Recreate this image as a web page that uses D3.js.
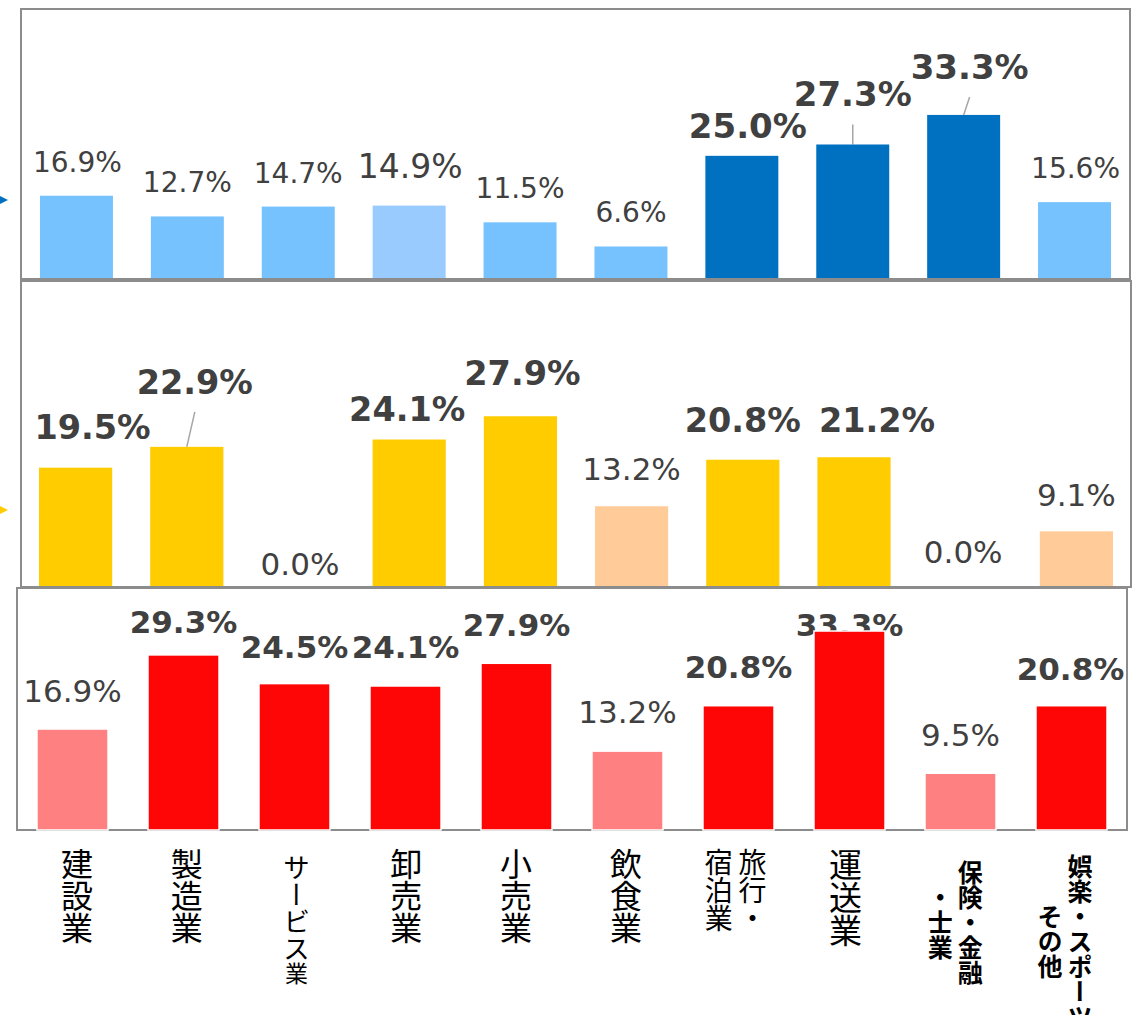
<!DOCTYPE html>
<html>
<head>
<meta charset="utf-8">
<script src="https://cdn.jsdelivr.net/npm/d3@7"></script>
<style>
html, body { margin: 0; padding: 0; background: #fff; }
svg { display: block; }
</style>
</head>
<body>
<div id="chart"></div>
<script>
// categories (x axis, same order in all three panels)
const categories = ['建設業', '製造業', 'サービス業', '卸売業', '小売業', '飲食業',
    '旅行・宿泊業', '運送業', '保険・金融・士業', '娯楽・スポーツ・その他'];
const categoryLines = [['建設業'], ['製造業'], ['サービス', '業'], ['卸売業'], ['小売業'], ['飲食業'],
    ['旅行・', '宿泊業'], ['運送業'], ['保険・金融', '・士業'], ['娯楽・スポーツ', 'その他']];

// panel values (%), and which bars are emphasised
const topValues = [16.9, 12.7, 14.7, 14.9, 11.5, 6.6, 25.0, 27.3, 33.3, 15.6];
const topTones = ['base', 'base', 'base', 'pale', 'base', 'base', 'hi', 'hi', 'hi', 'base'];
const midValues = [19.5, 22.9, 0.0, 24.1, 27.9, 13.2, 20.8, 21.2, 0.0, 9.1];
const midTones = ['hi', 'hi', 'lo', 'hi', 'hi', 'lo', 'hi', 'hi', 'lo', 'lo'];
const lowValues = [16.9, 29.3, 24.5, 24.1, 27.9, 13.2, 20.8, 33.3, 9.5, 20.8];
const lowTones = ['lo', 'hi', 'hi', 'hi', 'hi', 'lo', 'hi', 'hi', 'lo', 'hi'];

// label nudges (gap above bar top, horizontal shift) as placed in the original
const topLabelGap = [24, 24, 24, 28, 24, 24, 18, 38, 36, 24];
const topLabelShift = [1, 0, 0, 1, 0, 0, 6, 0, 6, 1];
const midLabelGap = [29, 53, 12, 19, 31, 26, 28, 25, 24, 25];
const midLabelShift = [17, 8, 2, -2, 2, 0, 0, 23, -2, 0];
const lowLabelGap = [27, 22, 26, 28, 27, 28, 28, -5, 27, 26];
const lowLabelShift = [0, 0, 0, 0, 0, 0, 0, 0, 0, -1];

const width = 1135,
    height = 1015,
    textColor = '#404040',
    borderColor = '#8c8c8c';

let svg = d3.select('#chart').append('svg')
    .attr('width', width)
    .attr('height', height);

let panels = [
    {
        values: topValues, tones: topTones, gap: topLabelGap, shift: topLabelShift,
        box: {x: 21, y: 9, w: 1109, h: 270}, max: 54.8,
        padIn: 0.342, padOut: 0.171,
        colors: {base: '#75c2ff', pale: '#9acbff', hi: '#0070c0'},
        sizes: {base: 28, pale: 33, hi: 34},
        leaders: [7, 8], barStroke: null, borderOnTop: true
    },
    {
        values: midValues, tones: midTones, gap: midLabelGap, shift: midLabelShift,
        box: {x: 21, y: 281, w: 1110, h: 306}, max: 50,
        padIn: 0.342, padOut: 0.162,
        colors: {lo: '#ffcc99', hi: '#ffcc00'},
        sizes: {lo: 31, hi: 33.5},
        leaders: [1], barStroke: null, borderOnTop: true
    },
    {
        values: lowValues, tones: lowTones, gap: lowLabelGap, shift: lowLabelShift,
        box: {x: 17, y: 588, w: 1110, h: 242}, max: 40.5,
        padIn: 0.36, padOut: 0.18,
        colors: {lo: '#ff8080', hi: '#ff0606'},
        sizes: {lo: 31, hi: 31},
        leaders: [], barStroke: '#fff', borderOnTop: false
    }
];

function drawBorder(g, p) {
    g.append('rect')
        .attr('x', p.box.x)
        .attr('y', p.box.y)
        .attr('width', p.box.w)
        .attr('height', p.box.h)
        .attr('fill', 'none')
        .attr('stroke', borderColor)
        .attr('stroke-width', 2);
}

panels.forEach(function (p) {
    let g = svg.append('g').attr('class', 'panel');
    let bottom = p.box.y + p.box.h;

    let x = d3.scaleBand()
        .domain(categories)
        .range([p.box.x, p.box.x + p.box.w])
        .paddingInner(p.padIn)
        .paddingOuter(p.padOut);

    let y = d3.scaleLinear()
        .domain([0, p.max])
        .range([bottom, p.box.y]);

    let data = categories.map((c, i) => ({
        cat: c, v: p.values[i], tone: p.tones[i],
        gap: p.gap[i], shift: p.shift[i], leader: p.leaders.indexOf(i) !== -1
    }));

    if (!p.borderOnTop) drawBorder(g, p);

    // value labels sit under the bars (the 33.3% label in the bottom panel is partly hidden)
    let lab = g.selectAll('.lab').data(data).enter();
    lab.append('text')
        .attr('class', 'lab')
        .attr('x', d => x(d.cat) + x.bandwidth() / 2 + d.shift)
        .attr('y', d => y(d.v) - d.gap)
        .attr('text-anchor', 'middle')
        .attr('font-family', '"DejaVu Sans", Verdana, sans-serif')
        .attr('font-weight', d => d.tone === 'hi' ? 'bold' : 'normal')
        .attr('font-size', d => p.sizes[d.tone])
        .attr('fill', textColor)
        .text(d => d.v.toFixed(1) + '%');

    g.selectAll('.leader').data(data.filter(d => d.leader)).enter()
        .append('line')
        .attr('class', 'leader')
        .attr('x1', d => x(d.cat) + x.bandwidth() / 2 + d.shift)
        .attr('y1', d => y(d.v) - d.gap + 18)
        .attr('x2', d => x(d.cat) + x.bandwidth() / 2)
        .attr('y2', d => y(d.v))
        .attr('stroke', '#a6a6a6')
        .attr('stroke-width', 1.5);

    g.selectAll('.bar').data(data.filter(d => d.v > 0)).enter()
        .append('rect')
        .attr('class', 'bar')
        .attr('x', d => x(d.cat))
        .attr('y', d => y(d.v))
        .attr('width', x.bandwidth())
        .attr('height', d => bottom - y(d.v))
        .attr('fill', d => p.colors[d.tone])
        .attr('stroke', p.barStroke || 'none')
        .attr('stroke-width', p.barStroke ? 1.5 : 0);

    if (p.borderOnTop) drawBorder(g, p);
});

// small arrow tips cut by the left edge
let arrows = [{y: 200, color: '#0070c0'}, {y: 510, color: '#ffcc00'}];
svg.selectAll('.arrow').data(arrows).enter()
    .append('path')
    .attr('class', 'arrow')
    .attr('d', d => `M-8,${d.y - 8}L8,${d.y}L-8,${d.y + 8}Z`)
    .attr('fill', d => d.color);

// vertical category labels
let catStyle = [
    {size: 32}, {size: 32}, {size: 27, tail: 23, top: 854}, {size: 32}, {size: 32}, {size: 32},
    {size: 28}, {size: 33}, {size: 25, bold: true, mid: 922}, {size: 25, bold: true, mid: 941}
];

let cx = d3.scalePoint()
    .domain(categories)
    .range([77, 1065]);

categories.forEach(function (c, i) {
    let st = catStyle[i];
    let lines = categoryLines[i];
    let pitch = st.size * 1.2;
    let cols = st.tail ? [lines.join('')] : lines;
    cols.forEach(function (line, j) {
        let colX = cx(c) + (cols.length - 1) / 2 * pitch - j * pitch;
        let t = svg.append('text')
            .attr('x', colX)
            .attr('y', st.mid ? st.mid : (st.top || 848))
            .attr('text-anchor', st.mid ? 'middle' : 'start')
            .attr('font-family', '"Noto Sans CJK JP", sans-serif')
            .attr('font-weight', st.bold ? 'bold' : 'normal')
            .attr('font-size', st.size)
            .attr('fill', '#000')
            .style('writing-mode', 'vertical-rl');
        if (st.tail) {
            t.append('tspan').text(lines[0]);
            t.append('tspan').attr('font-size', st.tail).text(lines[1]);
        } else {
            t.text(line);
        }
    });
});
</script>
</body>
</html>
